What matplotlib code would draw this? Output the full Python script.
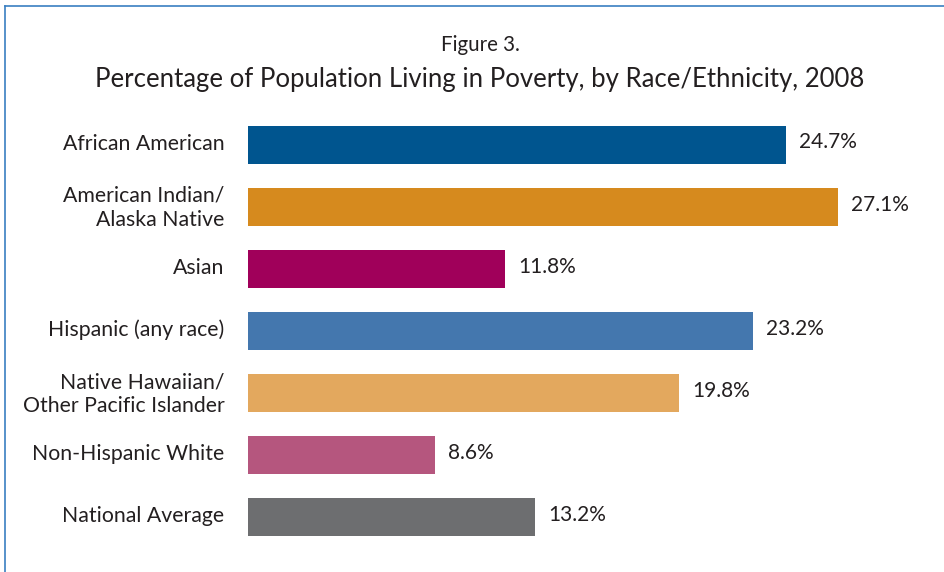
import matplotlib
matplotlib.use("Agg")
import matplotlib.pyplot as plt
import matplotlib.transforms as mtransforms
from matplotlib.lines import Line2D

categories = ["African American", "American Indian/\nAlaska Native", "Asian",
              "Hispanic (any race)", "Native Hawaiian/\nOther Pacific Islander",
              "Non-Hispanic White", "National Average"]
values = [24.7, 27.1, 11.8, 23.2, 19.8, 8.6, 13.2]
colors = ["#00558f", "#d68a1e", "#a0005a", "#4477ae", "#e3a85e", "#b5567e", "#6d6e70"]

plt.rcParams['font.family'] = ['Lato', 'DejaVu Sans']
txt = "#231f20"

fig = plt.figure(figsize=(9.45, 5.72), dpi=100)
W, H = 945, 572
ax = fig.add_axes([248 / W, (H - 548.5) / H, 653 / W, 435 / H])
ypos = list(range(len(categories)))
ax.barh(ypos, values, height=0.61, color=colors)
ax.set_xlim(0, 30)
ax.set_ylim(len(categories) - 0.5, -0.5)
ax.set_yticks(ypos)
ax.set_yticklabels(categories, fontsize=15.3, color=txt, linespacing=1.25)
ax.tick_params(axis='y', length=0, pad=17)
ax.set_xticks([])
for s in ax.spines.values():
    s.set_visible(False)
shift = mtransforms.ScaledTranslation(0, 3 / 100, fig.dpi_scale_trans)
for lbl in ax.get_yticklabels():
    lbl.set_transform(lbl.get_transform() + shift)
for y, v in zip(ypos, values):
    ax.annotate(f"{v:.1f}%", (v, y), xytext=(9.5, 1.5), textcoords='offset points',
                va='center', ha='left', fontsize=15, color=txt)

fig.text(480 / W, 1 - 45 / H, "Figure 3.", ha='center', va='center', fontsize=14.8, color=txt)
fig.text(480 / W, 1 - 79 / H, "Percentage of Population Living in Poverty, by Race/Ethnicity, 2008",
         ha='center', va='center', fontsize=18.5, color=txt)

bc = "#3a7fc1"
fig.add_artist(Line2D([5.5 / W, 5.5 / W], [0, 1 - 5.5 / H], transform=fig.transFigure, color=bc, lw=1.2))
fig.add_artist(Line2D([5.5 / W, 1], [1 - 5.5 / H, 1 - 5.5 / H], transform=fig.transFigure, color=bc, lw=1.2))

fig.savefig("out.png", dpi=100)
